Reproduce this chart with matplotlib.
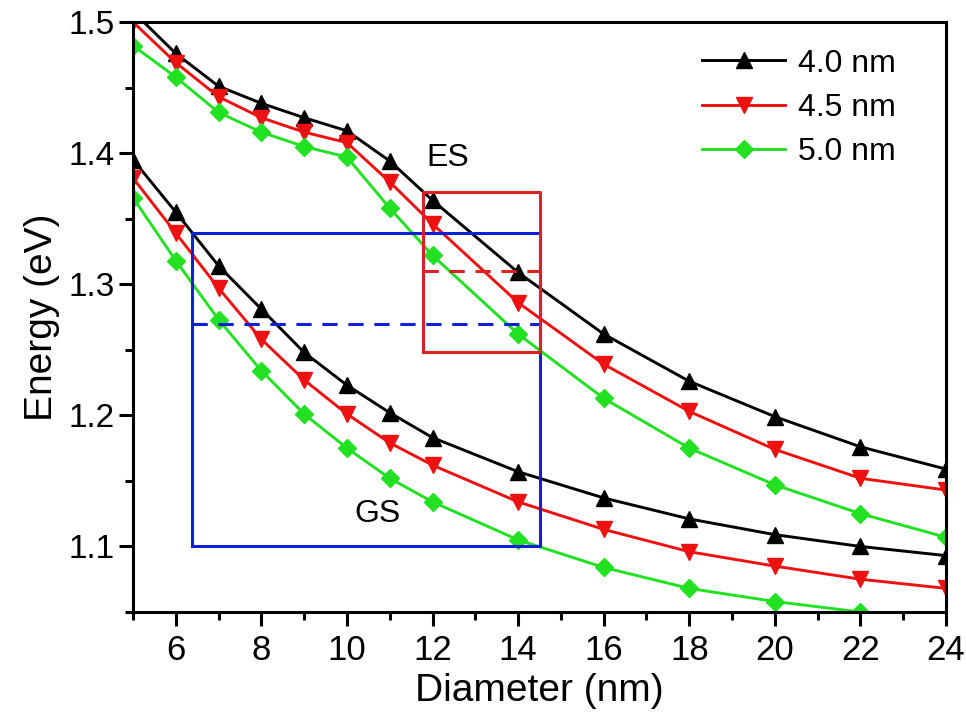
import matplotlib
matplotlib.use("Agg")
import matplotlib.pyplot as plt
from matplotlib.ticker import MultipleLocator

plt.rcParams['font.family'] = ['Liberation Sans', 'DejaVu Sans']

diam = [5, 6, 7, 8, 9, 10, 11, 12, 14, 16, 18, 20, 22, 24]

es_40 = [1.508, 1.476, 1.451, 1.438, 1.427, 1.417, 1.394, 1.364, 1.309, 1.262, 1.226, 1.199, 1.176, 1.159]
es_45 = [1.500, 1.469, 1.443, 1.427, 1.416, 1.408, 1.378, 1.346, 1.286, 1.239, 1.203, 1.174, 1.152, 1.143]
es_50 = [1.482, 1.458, 1.431, 1.416, 1.405, 1.397, 1.358, 1.322, 1.262, 1.213, 1.175, 1.147, 1.125, 1.107]

gs_40 = [1.395, 1.355, 1.314, 1.281, 1.248, 1.223, 1.202, 1.183, 1.157, 1.137, 1.121, 1.109, 1.100, 1.093]
gs_45 = [1.381, 1.339, 1.297, 1.258, 1.227, 1.201, 1.179, 1.162, 1.134, 1.113, 1.096, 1.085, 1.075, 1.068]
gs_50 = [1.366, 1.318, 1.273, 1.234, 1.201, 1.175, 1.152, 1.134, 1.105, 1.084, 1.068, 1.058, 1.050, 1.043]

labels = ["4.0 nm", "4.5 nm", "5.0 nm"]
colors = ["black", "#ee1111", "#22e022"]
markers = ["^", "v", "D"]
msizes = [11.5, 11.5, 9]

# boxes (x0, x1, y0, y1, dashed y)
blue_box = [6.38, 14.5, 1.100, 1.339, 1.270]
red_box = [11.77, 14.5, 1.248, 1.370, 1.310]

fig = plt.figure(figsize=(9.66, 7.2), dpi=100)
ax = fig.add_axes([0.1377, 0.15, 0.8416, 0.8194])

for es, gs, lab, c, m, ms in zip([es_40, es_45, es_50], [gs_40, gs_45, gs_50], labels, colors, markers, msizes):
    ax.plot(diam, es, color=c, marker=m, markersize=ms, lw=2.1, label=lab, clip_on=True)
    ax.plot(diam, gs, color=c, marker=m, markersize=ms, lw=2.1, clip_on=True)

bx0, bx1, by0, by1, byd = blue_box
ax.plot([bx0, bx1, bx1, bx0, bx0], [by0, by0, by1, by1, by0], color="#1020d8", lw=2.2)
ax.plot([bx0, bx1], [byd, byd], color="#1020d8", lw=2.2, ls=(0, (5, 3.5)))

rx0, rx1, ry0, ry1, ryd = red_box
ax.plot([rx0, rx1, rx1, rx0, rx0], [ry0, ry0, ry1, ry1, ry0], color="#e02020", lw=2.2)
ax.plot([rx0, rx1], [ryd, ryd], color="#e02020", lw=2.2, ls=(0, (5, 3.5)))

ax.text(12.36, 1.396, "ES", fontsize=23, ha="center", va="center")
ax.text(10.72, 1.1245, "GS", fontsize=23, ha="center", va="center")

ax.set_xlim(5, 24)
ax.set_ylim(1.05, 1.5)
ax.xaxis.set_minor_locator(MultipleLocator(1))
ax.yaxis.set_minor_locator(MultipleLocator(0.05))
ax.set_xticks([6, 8, 10, 12, 14, 16, 18, 20, 22, 24])
ax.set_yticks([1.1, 1.2, 1.3, 1.4, 1.5])
ax.set_yticklabels(["1.1", "1.2", "1.3", "1.4", "1.5"])

ax.tick_params(axis="both", which="major", direction="out", length=10, width=2.2, labelsize=24)
ax.tick_params(axis="both", which="minor", direction="out", length=6, width=2.2)
ax.tick_params(axis="x", labelsize=25, pad=6)
for s in ax.spines.values():
    s.set_linewidth(2.2)

ax.set_xlabel("Diameter (nm)", fontsize=28, labelpad=4)
ax.set_ylabel("Energy (eV)", fontsize=28, labelpad=6)

leg = ax.legend(loc="upper right", frameon=False, fontsize=23, handlelength=2.6,
                borderaxespad=0.3, labelspacing=0.45, handletextpad=0.4,
                bbox_to_anchor=(0.966, 0.993))

fig.savefig("out.png", dpi=100)
